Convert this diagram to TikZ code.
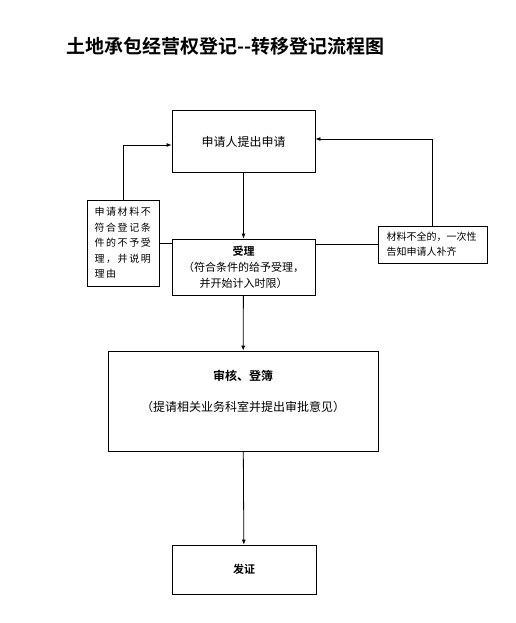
\documentclass[tikz,border=0pt]{standalone}
\usepackage{fontspec}
\setmainfont{Noto Sans CJK SC}[BoldFont={Noto Sans CJK SC Bold}]
\newfontfamily\spacedcjk{Noto Sans CJK SC}[LetterSpace=16]
\usetikzlibrary{arrows.meta}

\tikzset{
    stepbox/.style={draw, line width=0.8pt, inner sep=0pt, align=center, font=\fontsize{11}{16}\selectfont},
    noteline/.style={line width=0.8pt},
}

\begin{document}
\begin{tikzpicture}[x=1pt, y=-1pt, >={Latex[length=5pt,width=4pt]}]
    \useasboundingbox (0,0) rectangle (515,623);
    \node[anchor=west, font=\fontsize{19}{22}\selectfont\bfseries] (title) at (63,46) {土地承包经营权登记{-}{-}转移登记流程图};

    \node[stepbox, minimum width=143pt, minimum height=62pt, font=\fontsize{12}{14}\selectfont] (apply) at (243.5,141.5) {申请人提出申请};
    \node[stepbox, minimum width=143pt, minimum height=56pt] (accept) at (243.5,267) {\textbf{受理}\\（符合条件的给予受理，\\并开始计入时限）};
    \node[stepbox, minimum width=72pt, minimum height=86pt, align=left, text width=57pt, font=\fontsize{10}{15.5}\selectfont\spacedcjk] (reject) at (123,243) {申请材料不\\符合登记条\\件的不予受\\理，并说明\\理由};
    \node[stepbox, minimum width=109pt, minimum height=37pt, align=left, text width=92pt, font=\fontsize{10}{15}\selectfont] (supply) at (432.5,244.5) {材料不全的，一次性\\告知申请人补齐};
    \node[stepbox, minimum width=270pt, minimum height=100pt, font=\fontsize{12}{16}\selectfont] (review) at (243,401) {\textbf{审核、登簿}\\[15pt]（提请相关业务科室并提出审批意见）\\[-1pt]\strut};
    \node[stepbox, minimum width=144pt, minimum height=49pt] (issue) at (244,569.5) {\textbf{发证}};

    \draw[noteline, ->] (apply) -- (accept);
    \draw[noteline, ->] (accept) -- (review);
    \draw[noteline, ->] (review) -- (issue);
    \draw[noteline] (reject.east) -- (reject.east -| accept.west);
    \draw[noteline] (supply.west) -- (supply.west -| accept.east);
    \draw[noteline, ->] (reject.north) |- ([yshift=-3.5pt]apply.west);
    \draw[noteline, ->] (supply.north) |- ([yshift=2.5pt]apply.east);
\end{tikzpicture}
\end{document}
